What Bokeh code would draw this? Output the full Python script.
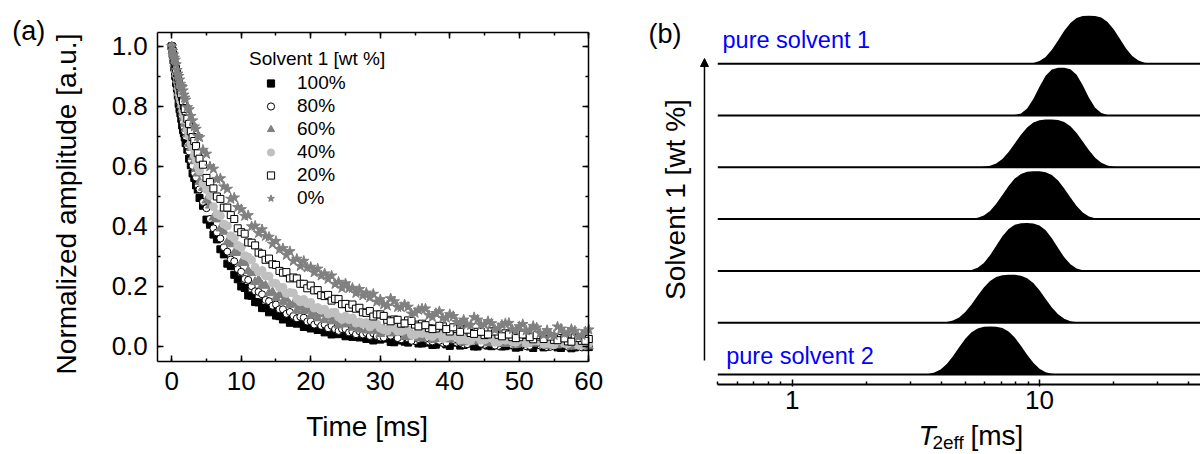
from bokeh.plotting import figure
from bokeh.models import (Range1d, LinearAxis, LogAxis, SingleIntervalTicker, PrintfTickFormatter,
                          Legend, LegendItem, Label, Arrow, NormalHead, FixedTicker)
from bokeh.layouts import row
from bokeh.embed import file_html
from bokeh.resources import INLINE

FONT = "Liberation Sans"

# ---------------- panel (a): decay curves ----------------
TIME_MS = [0, 0.25, 0.5, 0.75, 1, 1.25, 1.5, 1.75, 2, 2.25, 2.5, 2.75, 3, 3.25, 3.5, 3.75,
           4, 4.5, 5, 5.5, 6, 6.5, 7, 7.5, 8, 8.5, 9, 9.5, 10, 10.5, 11, 11.5, 12, 12.5,
           13, 13.5, 14, 14.5, 15, 15.5, 16, 16.5, 17, 17.5, 18, 18.5, 19, 19.5, 20, 20.5,
           21, 21.5, 22, 22.5, 23, 23.5, 24, 24.5, 25, 25.5, 26, 26.5, 27, 27.5, 28, 28.5,
           29, 29.5, 30, 31, 32, 33, 34, 35, 36, 37, 38, 39, 40, 41, 42, 43, 44, 45, 46,
           47, 48, 49, 50, 51, 52, 53, 54, 55, 56, 57, 58, 59, 60]
# additional echo times (early and half-step tail samples)
TIME_MS_EXTRA = [0.125, 0.375, 0.625, 0.875, 1.125, 1.375, 1.625, 1.875,
                 30.5, 31.5, 32.5, 33.5, 34.5, 35.5, 36.5, 37.5, 38.5, 39.5, 40.5, 41.5,
                 42.5, 43.5, 44.5, 45.5, 46.5, 47.5, 48.5, 49.5, 50.5, 51.5, 52.5, 53.5,
                 54.5, 55.5, 56.5, 57.5, 58.5, 59.5]

AMP_100 = [1.0, .954, .902, .860, .809, .777, .737, .711, .678, .656, .626, .604, .577, .562, .537, .523,
           .495, .469, .423, .406, .373, .357, .324, .307, .276, .268, .239, .224, .200, .195, .170, .169,
           .148, .147, .128, .128, .114, .119, .103, .101, .090, .094, .079, .088, .076, .079, .065, .069,
           .060, .068, .055, .056, .047, .054, .040, .051, .041, .046, .034, .040, .032, .041, .030, .032,
           .025, .032, .020, .032,
           .023, .027, .014, .020, .013, .022, .010, .013, .006, .014, .002, .014, .005, .011, .000, .007,
           .001, .011, .001, .004, -.002, .007, -.005, .008, .000, .007, -.005, .003, -.003, .008, -.002]
AMP_100_EXTRA = [.975, .930, .879, .836, .791, .759, .722, .697,
                 .027, .015, .024, .016, .023, .010, .014, .005, .017, .007, .013, .003, .010, .000, .011,
                 .003, .012, .000, .005, -.004, .007, .000, .006, -.003, .008, -.003, .002, -.006, .007, -.002]
AMP_80 = [1.0, .956, .920, .874, .832, .801, .767, .731, .700, .670, .650, .621, .602, .578, .563, .538,
          .524, .482, .461, .425, .394, .380, .360, .331, .316, .290, .284, .258, .249, .225, .222, .201,
          .184, .182, .174, .155, .151, .136, .140, .124, .124, .109, .115, .102, .094, .099, .096, .083,
          .084, .073, .082, .069, .073, .061, .069, .058, .052, .058, .058, .047, .050, .041, .051, .040,
          .045, .035, .044, .035,
          .030, .036, .036, .024, .027, .018, .028, .017, .023, .012, .022, .013, .007, .015, .016, .006,
          .010, .002, .014, .004, .010, .001, .011, .003, -.002, .007, .009, -.001, .004, -.003, .009]
AMP_80_EXTRA = [.978, .936, .899, .851, .815, .785, .748, .717,
                .030, .036, .028, .033, .019, .025, .026, .017, .019, .013, .022, .013, .008, .016, .009,
                .016, .003, .010, .013, .004, .007, .002, .011, .004, -.001, .008, .009, .000, .004, -.001]
AMP_60 = [1.0, .966, .924, .890, .845, .823, .790, .764, .726, .707, .676, .662, .632, .618, .592, .577,
          .549, .529, .487, .470, .430, .424, .394, .383, .348, .341, .312, .312, .279, .279, .252, .245,
          .215, .222, .204, .203, .178, .181, .162, .172, .149, .157, .139, .141, .120, .132, .119, .123,
          .103, .110, .094, .108, .088, .099, .084, .089, .071, .085, .074, .080, .063, .071, .057, .072,
          .054, .067, .053, .059,
          .042, .056, .045, .051, .033, .041, .027, .043, .025, .038, .024, .031, .014, .030, .020, .028,
          .012, .022, .009, .026, .009, .023, .010, .018, .002, .019, .010, .018, .003, .013, .001]
AMP_60_EXTRA = [.985, .943, .909, .866, .836, .805, .779, .743,
                .059, .044, .055, .033, .042, .029, .040, .022, .039, .026, .032, .017, .032, .018, .031,
                .011, .022, .011, .023, .006, .024, .012, .018, .005, .021, .004, .016, .000, .019, .001]
AMP_40 = [1.0, .962, .932, .899, .858, .826, .803, .774, .754, .722, .701, .678, .663, .637, .621, .601,
          .585, .543, .523, .503, .466, .442, .436, .408, .402, .369, .361, .337, .330, .303, .298, .288,
          .264, .249, .253, .235, .234, .212, .210, .197, .197, .177, .180, .178, .159, .149, .157, .143,
          .147, .128, .130, .121, .124, .108, .113, .114, .098, .090, .101, .089, .095, .078, .082, .075,
          .080, .065, .073, .075,
          .061, .052, .062, .050, .055, .039, .043, .036, .041, .027, .035, .038, .024, .019, .031, .022,
          .029, .015, .021, .016, .023, .010, .019, .023, .011, .006, .019, .010, .019, .005, .011]
AMP_40_EXTRA = [.980, .948, .914, .880, .841, .815, .787, .765,
                .056, .065, .051, .055, .039, .046, .047, .033, .043, .032, .035, .022, .021, .033, .021,
                .028, .014, .023, .026, .014, .026, .016, .020, .008, .009, .021, .010, .017, .004, .019]
AMP_20 = [1.0, .971, .936, .912, .884, .852, .831, .802, .784, .759, .742, .717, .698, .685, .668, .644,
          .626, .606, .562, .548, .527, .500, .492, .463, .463, .438, .425, .394, .381, .376, .347, .346,
          .337, .313, .309, .289, .293, .274, .272, .252, .246, .248, .227, .230, .227, .209, .209, .194,
          .203, .187, .188, .171, .168, .172, .153, .159, .158, .141, .142, .129, .140, .126, .129, .114,
          .112, .118, .100, .107,
          .107, .089, .090, .076, .087, .073, .076, .061, .060, .067, .050, .058, .059, .045, .049, .038,
          .051, .039, .044, .031, .031, .039, .024, .033, .036, .022, .028, .017, .031, .019, .025]
AMP_20_EXTRA = [.986, .952, .925, .897, .869, .841, .818, .792,
                .102, .084, .089, .077, .085, .067, .071, .058, .069, .058, .064, .049, .056, .042, .049,
                .040, .050, .034, .040, .028, .040, .031, .038, .025, .033, .021, .027, .016, .028, .019]
AMP_0 = [1.0, .973, .955, .921, .901, .875, .864, .839, .822, .797, .790, .768, .753, .733, .725, .701,
         .697, .655, .642, .600, .592, .558, .560, .533, .525, .492, .496, .464, .457, .435, .437, .400,
         .402, .378, .390, .368, .365, .342, .351, .324, .327, .305, .317, .285, .292, .268, .285, .263,
         .265, .247, .259, .236, .243, .225, .236, .208, .215, .195, .210, .194, .195, .178, .191, .170,
         .179, .163, .175, .149,
         .157, .136, .150, .131, .132, .112, .126, .104, .111, .095, .107, .081, .089, .071, .089, .073,
         .077, .061, .077, .057, .067, .053, .068, .044, .054, .038, .059, .046, .052, .038, .056]
AMP_0_EXTRA = [.985, .962, .940, .909, .889, .868, .853, .829,
               .140, .160, .131, .140, .109, .122, .126, .098, .117, .095, .101, .075, .073, .097, .071,
               .084, .056, .072, .078, .053, .074, .054, .063, .039, .039, .066, .043, .058, .032, .050]

SERIES_LABELS = ["100%", "80%", "60%", "40%", "20%", "0%"]
SERIES_VALUES = [AMP_100 + AMP_100_EXTRA, AMP_80 + AMP_80_EXTRA, AMP_60 + AMP_60_EXTRA,
                 AMP_40 + AMP_40_EXTRA, AMP_20 + AMP_20_EXTRA, AMP_0 + AMP_0_EXTRA]
TIME_ALL = TIME_MS + TIME_MS_EXTRA
for s in SERIES_VALUES:
    assert len(s) == len(TIME_ALL), len(s)

# ---------------- panel (b): T2eff distributions ----------------
T_GRID = [3.162, 3.350, 3.548, 3.758, 3.981, 4.217, 4.467, 4.732, 5.012, 5.309, 5.623, 5.957,
          6.310, 6.683, 7.079, 7.499, 7.943, 8.414, 8.913, 9.441, 10.0, 10.59, 11.22, 11.89,
          12.59, 13.34, 14.13, 14.96, 15.85, 16.79, 17.78, 18.84, 19.95, 21.13, 22.39, 23.71,
          25.12, 26.61, 28.18, 29.85]
DIST_PURE_1 = [0.0] * 18 + [.003, .016, .054, .141, .290, .485, .687, .851, .952, .993, 1.0, .996,
                            .962, .872, .717, .519, .318, .161, .065, .020, .005] + [0.0]
DIST_B = [0.0] * 15 + [.001, .008, .042, .145, .344, .602, .829, .958, .998, .999, .967, .849,
                       .632, .373, .163, .050, .010, .001] + [0.0] * 7
DIST_C = [0.0] * 10 + [.002, .009, .030, .080, .175, .320, .499, .680, .831, .933, .984, .999, 1.0,
                       .989, .947, .856, .714, .536, .354, .201, .096, .037, .012, .003] + [0.0] * 6
DIST_D = [0.0] * 8 + [.001, .007, .026, .074, .169, .318, .504, .692, .845, .943, .989, 1.0, .999,
                      .980, .921, .807, .641, .450, .272, .137, .057, .019, .005, .001] + [0.0] * 8
DIST_E = [0.0] * 7 + [.001, .005, .021, .067, .166, .326, .527, .724, .876, .964, .996, 1.0, .992,
                      .949, .846, .680, .477, .283, .137, .052, .015, .003] + [0.0] * 11
DIST_F = [0.0] * 3 + [.001, .004, .015, .046, .111, .224, .382, .563, .735, .870, .954, .991, 1.0,
                      .999, .982, .929, .827, .677, .497, .320, .178, .083, .031, .010, .002] + [0.0] * 12
DIST_PURE_2 = [0.0, .003, .013, .041, .105, .219, .382, .570, .748, .882, .962, .995, 1.0, .997, .970,
               .899, .773, .600, .412, .243, .119, .048, .015, .004, .001] + [0.0] * 15
DISTS_BOTTOM_TO_TOP = [DIST_PURE_2, DIST_F, DIST_E, DIST_D, DIST_C, DIST_B, DIST_PURE_1]
for d in DISTS_BOTTOM_TO_TOP:
    assert len(d) == len(T_GRID), len(d)

MAJOR_T = [1, 10]
MINOR_T = [0.5, 0.6, 0.7, 0.8, 0.9, 2, 3, 4, 5, 6, 7, 8, 9, 20, 30, 40]


def style_axis(ax, labels=True, lw=1.5):
    ax.axis_line_width = lw
    ax.axis_line_color = "black"
    ax.major_tick_in = 6
    ax.major_tick_out = 0
    ax.minor_tick_in = 3
    ax.minor_tick_out = 0
    ax.major_tick_line_width = 1.5
    ax.minor_tick_line_width = 1.5
    ax.major_tick_line_color = "black"
    ax.minor_tick_line_color = "black"
    ax.major_label_text_font = FONT
    ax.major_label_text_font_size = "26px"
    ax.major_label_text_color = "black" if labels else None


def text_label(x, y, text, size, **kw):
    kw.setdefault("text_color", "black")
    kw.setdefault("text_baseline", "alphabetic")
    return Label(x=x, y=y, text=text, text_font=FONT, text_font_size=size, **kw)


# ---------------- figure (a) ----------------
X0, X1 = -2, 60          # box limits (ms)
Y0, Y1 = -0.05, 1.047    # box limits (a.u.)
p1 = figure(width=640, height=454, x_range=Range1d(-24.627, 67.436),
            y_range=Range1d(-0.36, 1.1533), x_axis_location=None, y_axis_location=None,
            output_backend="svg", toolbar_location=None,
            min_border_left=0, min_border_right=0, min_border_top=0, min_border_bottom=0)
p1.grid.visible = False
p1.outline_line_color = None

bottom_ax = LinearAxis(ticker=SingleIntervalTicker(interval=10, num_minor_ticks=2),
                       fixed_location=Y0, bounds=(X0, X1))
left_ax = LinearAxis(ticker=SingleIntervalTicker(interval=0.2, num_minor_ticks=2),
                     formatter=PrintfTickFormatter(format="%.1f"),
                     fixed_location=X0, bounds=(Y0, Y1))
top_ax = LinearAxis(ticker=SingleIntervalTicker(interval=10, num_minor_ticks=2),
                    fixed_location=Y1, bounds=(X0, X1))
right_ax = LinearAxis(ticker=SingleIntervalTicker(interval=0.2, num_minor_ticks=2),
                      fixed_location=X1, bounds=(Y0, Y1))
style_axis(bottom_ax)
style_axis(left_ax)
style_axis(top_ax, labels=False)
style_axis(right_ax, labels=False)
bottom_ax.major_label_standoff = 11
left_ax.major_label_standoff = 10
p1.add_layout(bottom_ax, "below")
p1.add_layout(left_ax, "left")
p1.add_layout(top_ax, "above")
p1.add_layout(right_ax, "right")

MARKER_STYLES = [
    dict(marker="square", size=7, fill_color="black", line_color="black"),
    dict(marker="circle", size=7, fill_color="white", line_color="black"),
    dict(marker="triangle", size=9, fill_color="#808080", line_color="#808080"),
    dict(marker="circle", size=8, fill_color="#c0c0c0", line_color="#c0c0c0"),
    dict(marker="square", size=7, fill_color="white", line_color="black"),
    dict(marker="star", size=11, fill_color="#808080", line_color="#808080"),
]

items = []
for lab, vals, st in zip(SERIES_LABELS, SERIES_VALUES, MARKER_STYLES):
    r = p1.scatter(x=TIME_ALL, y=vals, line_width=1, **st)
    items.append(LegendItem(label=lab, renderers=[r]))

legend = Legend(items=items, location=(249, 245), title="Solvent 1 [wt %]",
                title_text_font=FONT, title_text_font_size="19px", title_text_font_style="normal",
                title_text_color="black", title_standoff=1,
                label_text_font=FONT, label_text_font_size="19px", label_text_color="black",
                glyph_width=43, glyph_height=18, label_height=23, label_standoff=5,
                spacing=0, padding=0, margin=0, border_line_color=None,
                background_fill_alpha=0)
p1.add_layout(legend)

p1.add_layout(text_label(-22.94, 1.0513, "(a)", "27px"))
p1.add_layout(text_label(28.12, -0.2667, "Time [ms]", "28px", text_align="center"))
p1.add_layout(text_label(-15.13, 0.475, "Normalized amplitude [a.u.]", "28px",
                         text_align="center", angle=1.5707963))

# ---------------- figure (b) ----------------
X_START, X_END = 0.2435, 44.78
AXIS_START = 0.5
PEAK = 0.925

p2 = figure(width=560, height=454, x_axis_type="log", x_range=Range1d(X_START, X_END),
            y_range=Range1d(-1.544, 7.220), x_axis_location=None, y_axis_location=None,
            output_backend="svg", toolbar_location=None,
            min_border_left=0, min_border_right=0, min_border_top=0, min_border_bottom=0)
p2.grid.visible = False
p2.outline_line_color = None

bx = LogAxis(ticker=FixedTicker(ticks=MAJOR_T, minor_ticks=MINOR_T),
             formatter=PrintfTickFormatter(format="%d"),
             fixed_location=-0.193, bounds=(AXIS_START, X_END))
style_axis(bx, lw=2)
bx.major_tick_in = 5
bx.major_tick_out = 2
bx.minor_tick_in = 3
bx.major_label_standoff = 4
p2.add_layout(bx, "below")

offsets = list(range(len(DISTS_BOTTOM_TO_TOP)))
for off, d in zip(offsets, DISTS_BOTTOM_TO_TOP):
    p2.varea(x=T_GRID, y1=[off] * len(T_GRID), y2=[off + PEAK * v for v in d],
             fill_color="black")
p2.segment(x0=[AXIS_START] * len(offsets), y0=offsets, x1=[X_END] * len(offsets), y1=offsets,
           line_color="black", line_width=2)

p2.add_layout(Arrow(end=NormalHead(size=8, fill_color="black", line_color="black", line_width=1),
                    x_start=0.4418, y_start=0.27, x_end=0.4418, y_end=6.10,
                    line_width=1.5, line_color="black"))

p2.add_layout(text_label(0.2624, 6.564, "(b)", "27px"))
p2.add_layout(text_label(0.5226, 6.467, "pure solvent 1", "23.5px", text_color="#0000ff"))
p2.add_layout(text_label(0.5409, 0.367, "pure solvent 2", "23.5px", text_color="#0000ff"))
p2.add_layout(text_label(0.3373, 3.378, "Solvent 1 [wt %]", "28px", text_align="center",
                         angle=1.5707963))
p2.add_layout(text_label(3.242, -1.178, "T", "28px", text_font_style="italic"))
p2.add_layout(text_label(3.692, -1.313, "2eff", "19px"))
p2.add_layout(text_label(5.260, -1.178, "[ms]", "28px"))

layout = row(p1, p2)
open("out.html", "w").write(file_html(layout, INLINE))
